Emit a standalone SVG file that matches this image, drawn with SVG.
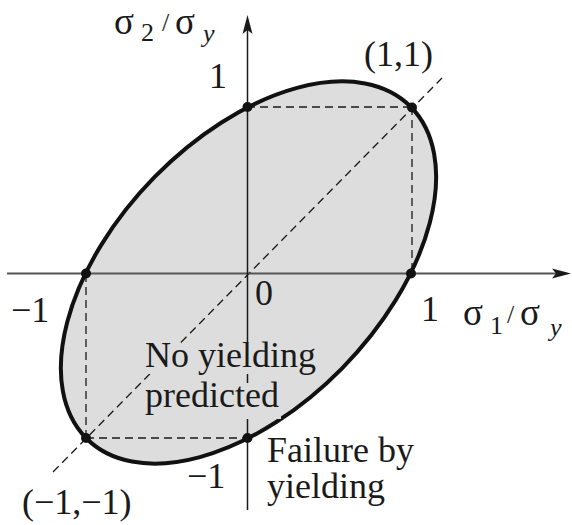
<svg xmlns="http://www.w3.org/2000/svg" width="572" height="525" viewBox="0 0 572 525">
<style>
  text { font-family: "Liberation Serif", "Times New Roman", serif; fill: #1a1a1a; }
  .lbl { font-size: 36px; }
  .greek { font-size: 37px; }
  .sub { font-size: 26px; }
  .dash { stroke: #1a1a1a; stroke-width: 1.3; stroke-dasharray: 8 5; fill: none; }
  .dot { fill: #111; }
  .mask { fill: #dddddd; }
</style>
<rect width="572" height="525" fill="#ffffff"/>
<g id="ellipse">
  <ellipse cx="0" cy="0" rx="1.41421" ry="0.81650" transform="translate(248.5,272.5) scale(162.5,-165.5) rotate(45)" fill="#dddddd" stroke="#111111" stroke-width="4" vector-effect="non-scaling-stroke"/>
</g>
<g id="connectors">
  <line class="dash" x1="53" y1="472" x2="442" y2="78"/>
  <line class="dash" x1="86" y1="274" x2="86" y2="438"/>
  <line class="dash" x1="86" y1="438" x2="247" y2="438"/>
  <line class="dash" x1="247" y1="107" x2="412" y2="107"/>
  <line class="dash" x1="412" y1="107" x2="412" y2="274"/>
</g>
<g id="axes">
  <line x1="7" y1="273.5" x2="556" y2="273.5" stroke="#555555" stroke-width="2"/>
  <path d="M571,273.5 L552,268.5 L556,273.5 L552,278.5 Z" fill="#1a1a1a"/>
  <line x1="247.5" y1="510" x2="247.5" y2="30" stroke="#1a1a1a" stroke-width="1.5"/>
  <path d="M247.5,15 L242.5,34 L247.5,30 L252.5,34 Z" fill="#1a1a1a"/>
</g>
<g id="points">
  <circle class="dot" cx="247.5" cy="107" r="5"/>
  <circle class="dot" cx="412" cy="107.5" r="5"/>
  <circle class="dot" cx="86" cy="273.5" r="5"/>
  <circle class="dot" cx="411" cy="273.5" r="5"/>
  <circle class="dot" cx="86" cy="438" r="5"/>
  <circle class="dot" cx="247.5" cy="438" r="5"/>
</g>
<g id="region-label">
  <rect class="mask" x="143" y="343" width="178" height="31"/>
  <rect class="mask" x="143" y="383" width="138" height="36"/>
  <text class="lbl" x="145" y="367">No yielding</text>
  <text class="lbl" x="145" y="407">predicted</text>
</g>
<g id="failure-label">
  <text class="lbl" x="267" y="462">Failure by</text>
  <text class="lbl" x="267" y="498">yielding</text>
</g>
<g id="tick-labels">
  <text class="lbl" x="209" y="88">1</text>
  <text class="lbl" x="421" y="321">1</text>
  <text class="lbl" x="255" y="305">0</text>
  <text class="lbl" x="11" y="322">−1</text>
  <text class="lbl" x="187" y="488">−1</text>
  <text class="lbl" x="364" y="66">(1,1)</text>
  <text class="lbl" x="22" y="514">(−1,−1)</text>
</g>
<g id="axis-label-x">
  <text class="greek" x="463" y="325">σ</text>
  <text class="sub" x="490" y="334">1</text>
  <text class="sub" x="507" y="323">/</text>
  <text class="greek" x="520" y="325">σ</text>
  <text class="sub" x="550" y="336" font-style="italic">y</text>
</g>
<g id="axis-label-y">
  <text class="greek" x="114" y="34">σ</text>
  <text class="sub" x="141" y="41">2</text>
  <text class="sub" x="162" y="31">/</text>
  <text class="greek" x="175" y="34">σ</text>
  <text class="sub" x="203" y="42" font-style="italic">y</text>
</g>
</svg>
